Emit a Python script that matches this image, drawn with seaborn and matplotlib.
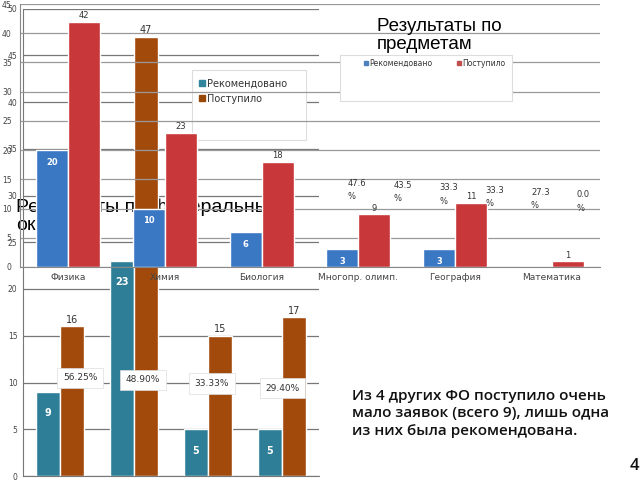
import matplotlib
matplotlib.use("Agg")
import matplotlib.pyplot as plt
import matplotlib.patches as mpatches
import seaborn as sns
import pandas as pd

# --- data ---
subjects = ["Физика", "Химия", "Биология", "Многопр. олимп.", "География", "Математика"]
subj_recommended = [20, 10, 6, 3, 3, 0]
subj_admitted = [42, 23, 18, 9, 11, 1]
subj_share = ["47.6", "43.5", "33.3", "33.3", "27.3", "0.0"]

districts = ["ФО 1", "ФО 2", "ФО 3", "ФО 4"]
district_recommended = [9, 23, 5, 5]
district_admitted = [16, 47, 15, 17]
district_share = ["56.25%", "48.90%", "33.33%", "29.40%"]

series = ["Рекомендовано", "Поступило"]

subj_df = pd.DataFrame({"cat": subjects * 2,
                        "series": [series[0]] * 6 + [series[1]] * 6,
                        "value": subj_recommended + subj_admitted})
dist_df = pd.DataFrame({"cat": districts * 2,
                        "series": [series[0]] * 4 + [series[1]] * 4,
                        "value": district_recommended + district_admitted})

sns.set_style("white")
plt.rcParams["font.family"] = ["DejaVu Sans"]

fig = plt.figure(figsize=(6.4, 4.8), dpi=100)
W, H = 640, 480


def box(x0, y_top, x1, y_bottom):
    return [x0 / W, 1 - y_bottom / H, (x1 - x0) / W, (y_bottom - y_top) / H]


# bottom layer: districts chart
ax_b = fig.add_axes(box(23, 8.5, 319, 476))
ax_b.set_zorder(1)
sns.barplot(data=dist_df, x="cat", y="value", hue="series",
            palette=["#2E7E98", "#A24A0C"], width=0.65, saturation=1,
            legend=False, ax=ax_b, zorder=2)
ax_b.set_ylim(0, 50)
ax_b.set_yticks(range(0, 51, 5))
ax_b.tick_params(axis="y", labelsize=5.5, labelcolor="#444", length=3, color="#777", pad=1)
ax_b.set_xticks([0.5, 1.5, 2.5], minor=True)
ax_b.tick_params(axis="x", which="minor", length=4, color="#777", direction="out")
ax_b.tick_params(axis="x", which="major", length=0, labelbottom=False)
ax_b.set_xlabel("")
ax_b.set_ylabel("")
ax_b.yaxis.grid(True, color="#777", lw=0.9)
ax_b.set_axisbelow(True)
for s in ["top", "right"]:
    ax_b.spines[s].set_visible(False)
ax_b.spines["left"].set_color("#777")
ax_b.spines["bottom"].set_color("#777")
ax_b.bar_label(ax_b.containers[0], padding=-19, color="white", fontsize=7, fontweight="bold")
ax_b.bar_label(ax_b.containers[1], padding=1, color="#333", fontsize=7)

share_dx = [0.27, 0.12, 0.05, 0.01]
share_y = [10.5, 10.3, 9.9, 9.4]
for i, s in enumerate(district_share):
    ax_b.text(i + share_dx[i], share_y[i], s, ha="center", va="center", fontsize=6.5,
              color="#333", zorder=5,
              bbox=dict(facecolor="white", edgecolor="#ddd", lw=0.5, pad=4))

ax_b.add_patch(mpatches.Rectangle((192 / W, 1 - 140 / H), 114 / W, 70 / H,
                                  transform=fig.transFigure, facecolor="white",
                                  edgecolor="#ddd", lw=0.8, zorder=6))
ax_b.legend(handles=[mpatches.Patch(color="#31859C"), mpatches.Patch(color="#984807")],
            labels=series, loc="upper left", bbox_to_anchor=(190 / W, 1 - 70 / H),
            bbox_transform=fig.transFigure, frameon=False, fontsize=7,
            handlelength=0.6, handleheight=0.6, handletextpad=0.3, labelspacing=0.5,
            labelcolor="#333").set_zorder(7)

# title sits under all the bars
ax_b.text(16 / W, 1 - 199 / H, "Результаты по федеральным\nокругам", transform=fig.transFigure,
          ha="left", va="top", fontsize=14, family=["Liberation Sans", "DejaVu Sans"],
          color="black", zorder=1.5, linespacing=1.05)

# top layer: subjects chart
ax_t = fig.add_axes(box(20, 4, 600, 267))
ax_t.set_zorder(2)
ax_t.patch.set_alpha(0)
sns.barplot(data=subj_df, x="cat", y="value", hue="series",
            palette=["#3B78C4", "#C8383A"], width=0.66, saturation=1,
            legend=False, ax=ax_t, zorder=2)
ax_t.set_ylim(0, 45)
ax_t.set_yticks(range(0, 46, 5))
ax_t.tick_params(axis="y", labelsize=5.5, labelcolor="#444", length=3, color="#888", pad=3)
ax_t.set_xticks([0.5, 1.5, 2.5, 3.5, 4.5], minor=True)
ax_t.tick_params(axis="x", which="minor", length=4, color="#888", direction="out")
ax_t.tick_params(axis="x", which="major", length=0, labelsize=6.5, labelcolor="#444", pad=4)
ax_t.set_xlabel("")
ax_t.set_ylabel("")
ax_t.yaxis.grid(True, color="#999", lw=0.9)
ax_t.set_axisbelow(True)
for s in ["top", "right"]:
    ax_t.spines[s].set_visible(False)
ax_t.spines["left"].set_color("#888")
ax_t.spines["bottom"].set_color("#888")
rec_labels = [str(v) if v > 0 else "" for v in subj_recommended]
ax_t.bar_label(ax_t.containers[0], labels=rec_labels, padding=-12, color="white",
               fontsize=6, fontweight="bold")
ax_t.bar_label(ax_t.containers[1], padding=1, color="#333", fontsize=6)

for i, s in enumerate(subj_share):
    ax_t.text(2.89 + 0.474 * i, 13.2 - 0.4 * i, s + "\n%", ha="left", va="center",
              fontsize=6, color="#333", linespacing=1.6, zorder=5)

ax_t.text(377 / W, 1 - 18 / H, "Результаты по\nпредметам", transform=fig.transFigure,
          ha="left", va="top", fontsize=13.5, family=["Liberation Sans", "DejaVu Sans"],
          color="black", zorder=5, linespacing=1.1)
ax_t.add_patch(mpatches.Rectangle((340 / W, 1 - 101 / H), 172 / W, 46 / H,
                                  transform=fig.transFigure, facecolor="white",
                                  edgecolor="#ddd", lw=0.8, zorder=6))
ax_t.legend(handles=[mpatches.Patch(color="#4F81BD"), mpatches.Patch(color="#C0504D")],
            labels=series, loc="upper left", bbox_to_anchor=(360 / W, 1 - 55 / H),
            bbox_transform=fig.transFigure, frameon=False, fontsize=5.5, ncol=2,
            handlelength=0.5, handleheight=0.5, handletextpad=0.2, columnspacing=3.2,
            labelcolor="#333", borderpad=0).set_zorder(7)

fig.text(352 / W, 1 - 389 / H,
         "Из 4 других ФО поступило очень\nмало заявок (всего 9), лишь одна\nиз них была рекомендована.",
         ha="left", va="top", fontsize=11, family=["Open Sans", "DejaVu Sans"],
         fontweight="semibold", color="#111", linespacing=1.3)
fig.text(634 / W, 1 - 466 / H, "4", ha="center", va="center", fontsize=12,
         family=["Open Sans", "DejaVu Sans"], fontweight="semibold", color="#111")

fig.savefig("out.png", dpi=100)
